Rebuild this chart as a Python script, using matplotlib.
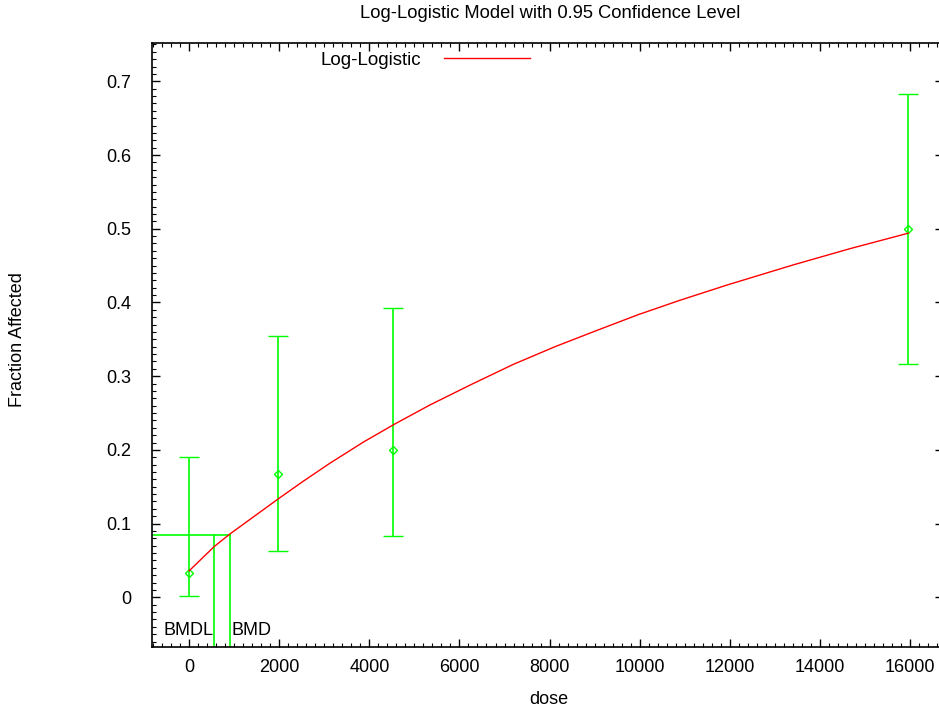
import matplotlib
matplotlib.use('Agg')
import matplotlib.pyplot as plt
from matplotlib.ticker import MultipleLocator

plt.rcParams['font.family'] = ['Liberation Sans', 'DejaVu Sans']

# observed data with 95% confidence limits
dose = [0, 1980, 4530, 15960]
frac = [0.033, 0.1667, 0.2, 0.5]
ci_low = [0.0015, 0.0625, 0.0835, 0.3167]
ci_high = [0.19, 0.354, 0.392, 0.683]

# fitted log-logistic curve
curve_dose = [0, 558, 906, 1987, 2533, 3126, 3865, 4531, 5346, 6271, 7195,
              8121, 9047, 9970, 10896, 11932, 13411, 14670, 15964]
curve_frac = [0.036, 0.069, 0.086, 0.134, 0.1575, 0.182, 0.2105, 0.234, 0.261,
              0.289, 0.316, 0.340, 0.362, 0.3835, 0.403, 0.4235, 0.451, 0.473, 0.494]

bmr = 0.085
bmdl = 558
bmd = 913

GREEN = '#00ff00'
RED = '#ff0000'

fig = plt.figure(figsize=(9.39, 7.11), dpi=100)
left_px, right_px = 152.3, 943.0
ax = fig.add_axes([left_px / 939, 1 - 646.7 / 711, (right_px - left_px) / 939, (646.7 - 43) / 711])

xmin, xmax = -819, 16734
ymin, ymax = -0.067, 0.752
ax.set_xlim(xmin, xmax)
ax.set_ylim(ymin, ymax)

ax.plot(curve_dose, curve_frac, color=RED, lw=1.0, label='Log-Logistic', zorder=3)

yerr = [[f - lo for f, lo in zip(frac, ci_low)], [hi - f for f, hi in zip(frac, ci_high)]]
ax.errorbar(dose, frac, yerr=yerr, fmt='D', color=GREEN, mfc='none', mec=GREEN,
            ms=4.5, mew=1.0, elinewidth=1.2, capsize=7, capthick=1.2, zorder=2)

# BMD / BMDL markers
ax.plot([xmin, bmd], [bmr, bmr], color=GREEN, lw=1.2)
ax.plot([bmdl, bmdl], [ymin, bmr], color=GREEN, lw=1.2)
ax.plot([bmd, bmd], [ymin, bmr], color=GREEN, lw=1.2)
ax.text(bmdl - 20, -0.045, 'BMDL', ha='right', va='center', fontsize=13)
ax.text(bmd + 30, -0.045, 'BMD', ha='left', va='center', fontsize=13)

ax.xaxis.set_major_locator(MultipleLocator(2000))
ax.xaxis.set_minor_locator(MultipleLocator(200))
ax.set_yticks([0, 0.1, 0.2, 0.3, 0.4, 0.5, 0.6, 0.7])
ax.set_yticklabels(['0', '0.1', '0.2', '0.3', '0.4', '0.5', '0.6', '0.7'])
ax.yaxis.set_minor_locator(MultipleLocator(0.01))

ax.tick_params(which='both', direction='in', top=True, right=True, labelsize=13)
ax.tick_params(which='major', length=6, width=1.0)
ax.tick_params(which='minor', length=3, width=0.8)
ax.tick_params(axis='y', pad=15)
ax.tick_params(axis='x', pad=9)
for s in ax.spines.values():
    s.set_linewidth(1.2)

ax.set_xlabel('dose', fontsize=13)
ax.xaxis.set_label_coords((549 - left_px) / (right_px - left_px), (646.7 - 699) / 603.7)
ax.xaxis.label.set_va('center')
ax.set_ylabel('Fraction Affected', fontsize=13)
ax.yaxis.set_label_coords((18 - left_px) / (right_px - left_px), (646.7 - 340) / 603.7)
ax.yaxis.label.set_va('center')

fig.text(550 / 939, 1 - 14 / 711, 'Log-Logistic Model with 0.95 Confidence Level',
         ha='center', va='center', fontsize=13.2)

ax.legend(loc='center left', bbox_to_anchor=(321 / 939, 1 - 60 / 711),
          bbox_transform=fig.transFigure, frameon=False, markerfirst=False,
          handlelength=4.6, handletextpad=1.2, borderpad=0, borderaxespad=0,
          fontsize=13.5)

fig.savefig('out.png', dpi=100)
